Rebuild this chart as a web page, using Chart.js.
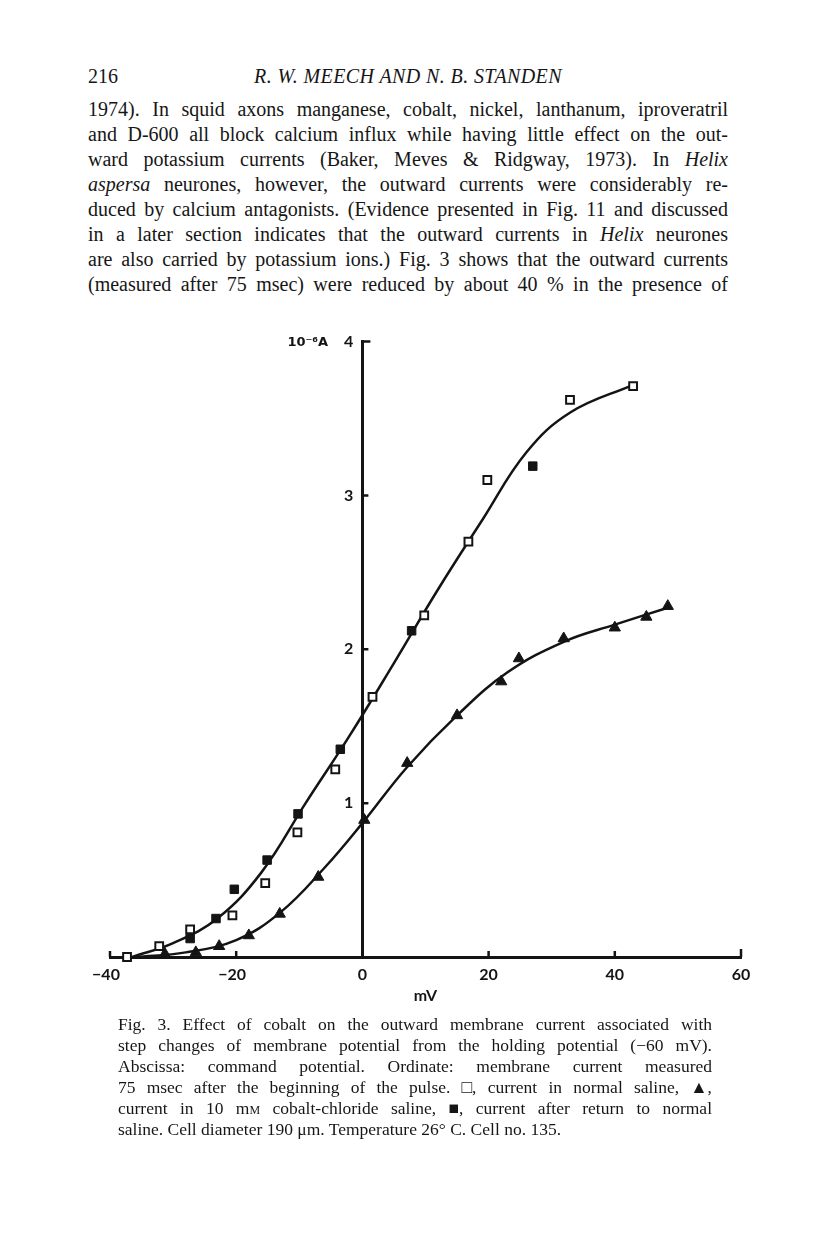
<!DOCTYPE html>
<html>
<head>
<meta charset="utf-8">
<script src="https://cdn.jsdelivr.net/npm/chart.js@4.4.1/dist/chart.umd.min.js"></script>
<style>
  html, body { margin: 0; padding: 0; background: #fff; }
  body { width: 816px; height: 1233px; position: relative; overflow: hidden; color: #161616; }
  .ln { position: absolute; white-space: nowrap; font-family: "Liberation Serif", serif; }
  .body { left: 88px; font-size: 20px; line-height: 25px; height: 25px; }
  .cap { left: 118px; font-size: 17.5px; line-height: 21px; height: 21px; }
  .sc { font-variant: small-caps; }
  #wrap { position: absolute; left: 50px; top: 300px; width: 730px; height: 730px; }
</style>
</head>
<body>

<div class="ln" style="left:88px; top:65px; font-size:20px;">216</div>
<div class="ln" id="runhead" style="left:224px; top:65px; font-size:20px; font-style:italic; letter-spacing:0.4px;">R. W. MEECH AND N. B. STANDEN</div>

<div class="ln body" data-w="640" style="top:97px">1974). In squid axons manganese, cobalt, nickel, lanthanum, iproveratril</div>
<div class="ln body" data-w="640" style="top:122px">and D-600 all block calcium influx while having little effect on the out-</div>
<div class="ln body" data-w="640" style="top:147px">ward potassium currents (Baker, Meves &amp; Ridgway, 1973). In <i>Helix</i></div>
<div class="ln body" data-w="640" style="top:172px"><i>aspersa</i> neurones, however, the outward currents were considerably re-</div>
<div class="ln body" data-w="640" style="top:197px">duced by calcium antagonists. (Evidence presented in Fig. 11 and discussed</div>
<div class="ln body" data-w="640" style="top:222px">in a later section indicates that the outward currents in <i>Helix</i> neurones</div>
<div class="ln body" data-w="640" style="top:247px">are also carried by potassium ions.) Fig. 3 shows that the outward currents</div>
<div class="ln body" data-w="640" style="top:272px">(measured after 75 msec) were reduced by about 40 % in the presence of</div>

<div id="wrap"><canvas id="fig3"></canvas></div>

<div class="ln cap" data-w="594" style="top:1014px">Fig. 3. Effect of cobalt on the outward membrane current associated with</div>
<div class="ln cap" data-w="594" style="top:1035px">step changes of membrane potential from the holding potential (&minus;60 mV).</div>
<div class="ln cap" data-w="594" style="top:1056px">Abscissa: command potential. Ordinate: membrane current measured</div>
<div class="ln cap" data-w="594" style="top:1077px">75 msec after the beginning of the pulse. &#9633;, current in normal saline, &#9650;,</div>
<div class="ln cap" data-w="594" style="top:1098px">current in 10 m<span class="sc">m</span> cobalt-chloride saline, &#9632;, current after return to normal</div>
<div class="ln cap" style="top:1119px">saline. Cell diameter 190 &mu;m. Temperature 26&deg; C. Cell no. 135.</div>

<script>
// justify the text lines by spreading the word gaps
document.querySelectorAll('.ln[data-w]').forEach((el) => {
  const target = +el.dataset.w;
  const gaps = (el.textContent.match(/ /g) || []).length;
  const natural = el.getBoundingClientRect().width;
  if (gaps) el.style.wordSpacing = ((target - natural) / gaps) + 'px';
});
// centre the running head over the text block
const head = document.getElementById('runhead');
head.style.left = (408 - head.getBoundingClientRect().width / 2) + 'px';

// ---- data (mV, 10^-6 A) ----
// open squares: normal saline
const normalX = [-37.3, -32.2, -27.3, -20.6, -15.4, -10.3, -4.3, 1.6, 9.8, 16.8, 19.8, 32.9, 42.9];
const normalY = [0.00, 0.07, 0.18, 0.27, 0.48, 0.81, 1.22, 1.69, 2.22, 2.70, 3.10, 3.62, 3.71];

// filled squares: after return to normal saline
const returnX = [-27.3, -23.2, -20.3, -15.1, -10.2, -3.5, 7.8, 27.0];
const returnY = [0.12, 0.25, 0.44, 0.63, 0.93, 1.35, 2.12, 3.19];

// triangles: 10 mM cobalt-chloride saline
const cobaltX = [-31.3, -26.4, -22.7, -18.0, -13.1, -7.0, 0.3, 7.1, 15.0, 22.0, 24.8, 31.9, 40.0, 45.0, 48.4];
const cobaltY = [0.02, 0.03, 0.07, 0.14, 0.28, 0.52, 0.89, 1.26, 1.57, 1.79, 1.94, 2.07, 2.14, 2.21, 2.28];

// hand-drawn curves
const curveNormalX = [-36.5, -30, -23, -16, -9, -2, 5, 12, 19, 26, 33, 43];
const curveNormalY = [0, 0.09, 0.25, 0.55, 1.00, 1.44, 1.91, 2.39, 2.84, 3.28, 3.54, 3.72];
const curveCobaltX = [-36, -28, -20, -13, -6, 0, 7, 15, 23, 32, 40, 48.4];
const curveCobaltY = [0, 0.03, 0.11, 0.29, 0.58, 0.87, 1.23, 1.57, 1.85, 2.05, 2.16, 2.27];

// axis ticks
const xTicks = [-40, -20, 0, 20, 40, 60];
const yTicks = [1, 2, 3, 4];

const pts = (xs, ys) => xs.map((x, i) => ({ x: x, y: ys[i] }));
const INK = '#141414';

// small tick stubs that point into the plot, plus the ordinate unit
const axisMarks = {
  id: 'axisMarks',
  afterDraw(chart) {
    const { ctx } = chart;
    const xs = chart.scales.x, ys = chart.scales.y;
    const x0 = xs.getPixelForValue(0), y0 = ys.getPixelForValue(0);
    ctx.save();
    ctx.strokeStyle = INK;
    ctx.lineWidth = 2.5;
    ctx.beginPath();
    xTicks.forEach((v) => {
      if (v === 0) return;
      const px = xs.getPixelForValue(v);
      const len = v === 60 ? 8 : 6;
      ctx.moveTo(px, y0);
      ctx.lineTo(px, y0 - len);
    });
    yTicks.forEach((v) => {
      const py = ys.getPixelForValue(v);
      const len = v === 4 ? 8 : 6;
      ctx.moveTo(x0, py);
      ctx.lineTo(x0 + len, py);
    });
    ctx.stroke();
    ctx.fillStyle = INK;
    ctx.font = 'bold 13px "DejaVu Sans", sans-serif';
    ctx.textAlign = 'left';
    ctx.textBaseline = 'middle';
    ctx.fillText('10\u207B\u2076A', x0 - 75, ys.getPixelForValue(4) + 1);
    ctx.restore();
  }
};

new Chart(document.getElementById('fig3'), {
  type: 'line',
  data: {
    datasets: [
      {
        label: 'normal saline',
        data: pts(normalX, normalY),
        showLine: false,
        pointStyle: 'rect',
        pointRadius: 5.5,
        pointBorderWidth: 2,
        pointBackgroundColor: '#fff',
        pointBorderColor: INK,
        order: 1
      },
      {
        label: 'after return to normal saline',
        data: pts(returnX, returnY),
        showLine: false,
        pointStyle: 'rect',
        pointRadius: 6,
        pointBorderWidth: 1,
        pointBackgroundColor: INK,
        pointBorderColor: INK,
        order: 1
      },
      {
        label: '10 mM cobalt-chloride saline',
        data: pts(cobaltX, cobaltY),
        showLine: false,
        pointStyle: 'triangle',
        pointRadius: 6.5,
        pointBorderWidth: 1,
        pointBackgroundColor: INK,
        pointBorderColor: INK,
        order: 1
      },
      {
        label: 'curve normal',
        data: pts(curveNormalX, curveNormalY),
        borderColor: INK,
        borderWidth: 2.5,
        pointRadius: 0,
        tension: 0.4,
        order: 2
      },
      {
        label: 'curve cobalt',
        data: pts(curveCobaltX, curveCobaltY),
        borderColor: INK,
        borderWidth: 2.5,
        pointRadius: 0,
        tension: 0.4,
        order: 2
      }
    ]
  },
  options: {
    responsive: true,
    maintainAspectRatio: false,
    animation: false,
    clip: false,
    layout: { padding: { left: 60, right: 39, top: 41.5, bottom: 21 } },
    plugins: {
      legend: { display: false },
      tooltip: { enabled: false }
    },
    scales: {
      x: {
        type: 'linear',
        min: -40,
        max: 60,
        afterBuildTicks: (scale) => { scale.ticks = xTicks.map((v) => ({ value: v })); },
        afterFit: (scale) => { scale.height = 52; },
        grid: { display: false, drawTicks: false },
        border: { display: true, width: 3, color: INK },
        ticks: {
          padding: 8,
          color: INK,
          font: { family: 'Lato', weight: 'bold', size: 16 },
          callback: (v) => (v < 0 ? '\u2212' + Math.abs(v) + '\u2002' : String(v))
        },
        title: {
          display: true,
          text: 'mV',
          color: INK,
          font: { family: 'Lato', weight: 'bold', size: 16 },
          padding: { top: 0, bottom: 4 }
        }
      },
      y: {
        type: 'linear',
        position: { x: 0 },
        min: 0,
        max: 4,
        afterBuildTicks: (scale) => { scale.ticks = [0].concat(yTicks).map((v) => ({ value: v })); },
        grid: { display: false, drawTicks: false },
        border: { display: true, width: 3, color: INK },
        ticks: {
          color: INK,
          font: { family: 'Lato', weight: 'bold', size: 16 },
          // the centred axis ignores padding, so trailing spaces push labels left
          callback: (v) => (v === 0 ? '' : String(v) + '\u2002\u200A')
        }
      }
    }
  },
  plugins: [axisMarks]
});
</script>
</body>
</html>
